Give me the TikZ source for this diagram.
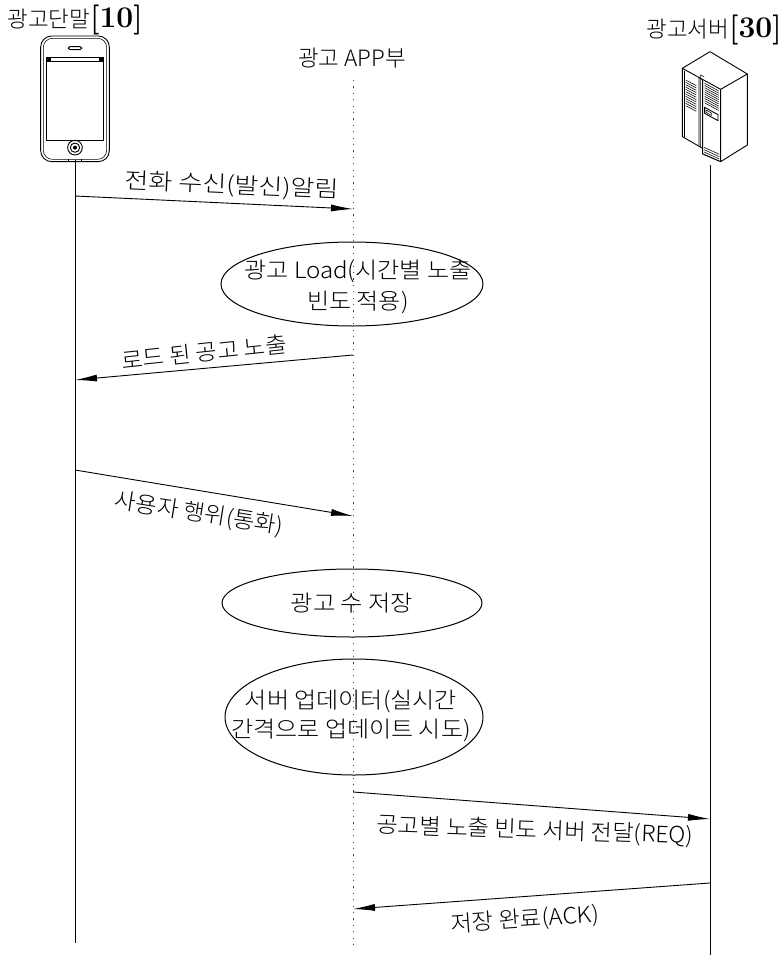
\documentclass[tikz,border=0pt]{standalone}
\usepackage{fontspec}
\newfontfamily\krfont{Noto Sans CJK KR Light}
\usetikzlibrary{arrows.meta,shapes.geometric}
\tikzset{
  lbl/.style={inner sep=0pt,font=\krfont\fontsize{22.5}{26}\selectfont,align=center,text=black},
  oval/.style={draw,ellipse,inner sep=0pt,line width=1pt,fill=none},
  msg/.style={line width=.9pt,-{Latex[length=22pt,width=7pt]}},
  life/.style={line width=1pt},
  dotline/.style={line width=1pt,black!75,dash pattern=on 1.2pt off 5.2pt},
  thinl/.style={line width=.55pt},
  med/.style={line width=.9pt}
}
\newcommand{\brnum}[1]{{\normalfont\bfseries\fontsize{30}{30}\selectfont[#1]}}
\begin{document}
\begin{tikzpicture}[x=1pt,y=-1pt]
\useasboundingbox (0,0) rectangle (782,955);
% titles
\node[lbl] (t1) at (75,20) {광고단말\brnum{10}};
\node[lbl] (t2) at (714,30) {광고서버\brnum{30}};
\node[lbl] (t3) at (352,58) {광고 APP부};
% phone
\begin{scope}[x=.3333pt,y=-.3333pt]
\draw[med,rounded corners=11pt] (122,108) rectangle (328,485);
\draw[thinl,rounded corners=9pt] (130,115) rectangle (320,478);
\draw[med] (138,172) rectangle (310,422);
\draw[thinl] (138,185) -- (310,185);
\fill (138,172) rectangle (152,185);
\fill (296,172) rectangle (310,185);
\draw[med,rounded corners=1.5pt] (205,140) rectangle (245,149);
\draw[med] (225,443) circle [radius=22];
\draw[med] (225,443) circle [radius=14];
\fill (225,443) circle [radius=6];
\draw[thinl] (205,478) -- (205,485) (245,478) -- (245,485);
\end{scope}
% server
\begin{scope}[xshift=630pt,x=.3333pt,y=-.3333pt,line join=round]
\draw[med] (240,155) -- (352,222) -- (272,268) -- (157,205) -- cycle;
\draw[med] (352,222) -- (352,435) -- (272,485) -- (272,268);
\draw[med] (157,205) -- (157,410) -- (218,445);
\draw[med] (218,240) -- (218,462) -- (272,485);
\draw[thinl] (207,232) -- (207,440) (218,240) -- (207,232);
\draw[thinl] (212,225) -- (212,443) (212,225) -- (222,230);
\draw[thinl] (163,212) -- (163,412);
\foreach \i in {0,...,11}
  \draw[thinl] (167,{240+\i*7}) -- (199,{257+\i*7});
\foreach \i in {0,...,9}
  \draw[thinl] (224,{250+\i*6.5}) -- (266,{273+\i*6.5});
\draw[med] (224,322) -- (264,344) -- (264,362) -- (224,340) -- cycle;
\draw[thinl] (228,330) -- (244,339) -- (244,346) -- (228,337) -- cycle;
\foreach \i in {0,...,3}
  \draw[thinl] (222,{442+\i*7}) -- (268,{463+\i*7});
\end{scope}
% lifelines
\coordinate (p0) at (75,160); \coordinate (p1) at (75,943);
\coordinate (a0) at (353,80); \coordinate (a1) at (353,945);
\coordinate (s0) at (710,165); \coordinate (s1) at (710,955);
\draw[life] (p0) -- (p1);
\draw[dotline] (a0) -- (a1);
\draw[life] (s0) -- (s1);
% ovals
\node[oval,minimum width=262pt,minimum height=84pt] (e1) at (352,284) {};
\node[lbl,xscale=1.07] (e1t) at (358,287) {광고 Load(시간별 노출\\[5pt]빈도 적용)};
\node[oval,minimum width=260pt,minimum height=68pt] (e2) at (352,603) {};
\node[lbl,xscale=1.08] (e2t) at (352,603) {광고 수 저장};
\node[oval,minimum width=258pt,minimum height=116pt] (e3) at (354,717) {};
\node[lbl,xscale=1.07] (e3t) at (351,716) {서버 업데이터(실시간\\[3pt]간격으로 업데이트 시도)};
% messages
\coordinate (m1a) at (75,196); \coordinate (m1b) at (353,209);
\coordinate (m2a) at (353,355); \coordinate (m2b) at (75,380);
\coordinate (m3a) at (75,470); \coordinate (m3b) at (353,516);
\coordinate (m4a) at (353,792); \coordinate (m4b) at (710,819);
\coordinate (m5a) at (710,883); \coordinate (m5b) at (353,909);
\draw[msg] (m1a) -- (m1b);
\draw[msg] (m2a) -- (m2b);
\draw[msg] (m3a) -- (m3b);
\draw[msg] (m4a) -- (m4b);
\draw[msg] (m5a) -- (m5b);
\node[lbl,rotate=-2.5,xscale=1.16] (l1) at (232,186) {전화 수신(발신)알림};
\node[lbl,rotate=6,xscale=1.04] (l2) at (204,352) {로드 된 공고 노출};
\node[lbl,rotate=-9,xscale=1.04] (l3) at (199,514) {사용자 행위(통화)};
\node[lbl,rotate=-2,xscale=1.04] (l4) at (535,831) {공고별 노출 빈도 서버 전달(REQ)};
\node[lbl,rotate=4,xscale=1.04] (l5) at (525,920) {저장 완료(ACK)};
\end{tikzpicture}
\end{document}
